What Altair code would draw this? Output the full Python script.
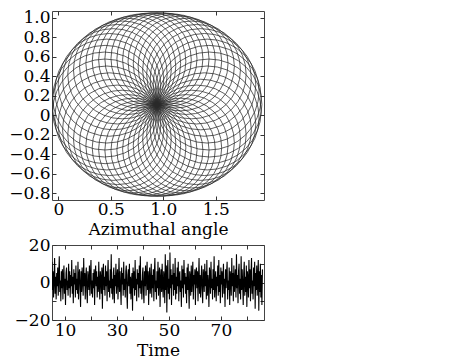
import altair as alt
import numpy as np
import pandas as pd

# ---------------- top panel: orbit loops ----------------
loop_angle_deg = [0, 7.5, 15, 22.5, 30, 37.5, 45, 52.5, 60, 67.5, 75, 82.5,
                  90, 97.5, 105, 112.5, 120, 127.5, 135, 142.5, 150, 157.5, 165, 172.5,
                  180, 187.5, 195, 202.5, 210, 217.5, 225, 232.5, 240, 247.5, 255, 262.5,
                  270, 277.5, 285, 292.5, 300, 307.5, 315, 322.5, 330, 337.5, 345, 352.5]
loop_reach = [1.000, 0.997, 0.990, 0.979, 0.964, 0.948, 0.932, 0.917, 0.903, 0.892, 0.883, 0.878,
              0.876, 0.878, 0.883, 0.892, 0.903, 0.917, 0.932, 0.948, 0.964, 0.979, 0.990, 0.997,
              1.000, 0.997, 0.990, 0.979, 0.964, 0.948, 0.932, 0.917, 0.903, 0.892, 0.883, 0.878,
              0.876, 0.878, 0.883, 0.892, 0.903, 0.917, 0.932, 0.948, 0.964, 0.979, 0.990, 0.997]
orbit_center = [0.94, 0.11]

x_domain = [-0.06, 1.96]
y_domain = [-0.87, 1.07]
x_ticks = [0, 0.5, 1.0, 1.5]
y_ticks = [-0.8, -0.6, -0.4, -0.2, 0, 0.2, 0.4, 0.6, 0.8, 1.0]

# ---------------- bottom panel: time series ----------------
t_start = 5.0
t_step = 0.2
signal = [
    11, -4, 6, -8, 2, 13, -6, 3, -9, 5, -2, 8, -7, 4, 14, -5, 1, -10, 6, -3,
    7, -9, 3, 9, -6, 2, -12, 5, 8, -4, 1, -7, 10, -3, 6, -8, 4, -2, 12, -6,
    3, -11, 7, -1, 5, -8, 9, -4, 2, -6, 11, -9, 4, 7, -3, -13, 6, -5, 8, 1,
    -7, 13, -2, 5, -9, 3, 8, -5, -11, 6, 2, -4, 9, -7, 4, 12, -6, 1, -8, 5,
    -3, 7, -12, 4, 9, -2, 6, -8, 3, -5, 11, -1, -9, 6, 2, -6, 8, -14, 5, 10,
    -4, 3, -7, 9, -2, 6, -10, 4, 12, -5, 1, -8, 7, -3, 15, -6, 2, -9, 5, 8,
    -11, 4, -2, 10, -6, 3, 7, -9, 1, 13, -5, 6, -3, -12, 8, -1, 5, -7, 11, -4,
    2, -8, 6, 9, -5, -14, 4, 7, -2, 10, -6, 3, -9, 1, 5, -15, 8, -3, 6, -7,
    12, -4, 2, -10, 7, -1, 5, -8, 9, -3, 14, -6, 1, -9, 4, 8, -5, -11, 6, -2,
    9, -7, 3, 11, -4, 6, -12, 2, 8, -6, -1, 10, -8, 4, -3, 7, -10, 5, 13, -5,
    1, -9, 6, -3, 11, -7, 4, 8, -13, 2, 7, -5, 10, -2, -8, 6, 3, -11, 15, -4,
    9, -16, 5, 12, -6, 2, -9, 16, -3, 7, -12, 4, -1, 10, -7, 5, -4, 13, -9, 3,
    -6, 8, -2, 11, -10, 4, 6, -5, 1, -13, 9, -3, 7, -8, 12, -1, 5, -6, 3, -11,
    8, -4, 10, -2, -14, 6, 3, -7, 9, -5, 2, 11, -9, 4, -1, 7, -12, 5, 8, -3,
    6, -10, 2, 13, -6, 4, -8, 1, 9, -4, -11, 7, 3, -5, 10, -2, 6, -9, 12, -7,
    4, -1, -13, 8, 5, -6, 11, -3, 2, -9, 7, -4, 14, -8, 1, 6, -10, 3, -2, 9,
    -7, 12, -5, 4, -11, 8, -1, 6, -8, 3, 10, -6, 2, -13, 7, -3, 5, 11, -9, 1,
    -4, 8, -12, 6, 2, -7, 13, -2, 5, -10, 9, -5, 1, 7, -8, 15, -3, 4, -11, 6,
    10, -6, 2, -9, 14, -4, 7, -1, -12, 5, 11, -7, 3, -5, 9, -13, 6, 2, -8, 12,
    -3, 7, -10, 4, 13, -6, 1, -9, 8, -2, 11, -14, 5, -4, 9, -7, 3, 12, -15, 6,
    -5, 10, -8, 4, -12, 7,
]
t_domain = [5.0, 86.6]
t_ticks = [10, 20, 30, 40, 50, 60, 70, 80]
v_domain = [-20, 20]
v_ticks = [-20, -10, 0, 10, 20]

# ---------------- layout ----------------
W = 212
H_TOP = 189
H_BOT = 75
FONT = "DejaVu Serif"
LINE = "#2a2a2a"

ppu_x = W / (x_domain[1] - x_domain[0])
ppu_y = H_TOP / (y_domain[1] - y_domain[0])

phi = np.radians(loop_angle_deg)
reach = np.array(loop_reach)
loops = pd.DataFrame({
    "cx": orbit_center[0] + 0.5 * reach * np.cos(phi),
    "cy": orbit_center[1] + 0.5 * reach * np.sin(phi) * ppu_x / ppu_y,
    "d": reach,
})

ts = pd.DataFrame({"t": t_start + t_step * np.arange(len(signal)), "v": signal})

minus = "replace(format(datum.value, '.1f'), '-', '\u2212')"
xs = alt.Scale(domain=x_domain, nice=False, zero=False)
ys = alt.Scale(domain=y_domain, nice=False, zero=False)


def inner_axis(orient, values, **kw):
    return alt.Axis(orient=orient, values=values, offset=-4, tickSize=4, domain=False,
                    grid=False, tickColor="#333", tickWidth=1, labelFlush=False,
                    labelOverlap=False, **kw)


loop_layer = alt.Chart(loops).mark_point(
    shape="circle", filled=False, stroke=LINE, strokeWidth=0.75, opacity=1, clip=True
).encode(
    x=alt.X("cx:Q", scale=xs, title="Azimuthal angle",
            axis=inner_axis("bottom", x_ticks, labelPadding=1, titlePadding=4,
                            labelExpr="datum.value == 0 ? '0' : format(datum.value, '.1f')")),
    y=alt.Y("cy:Q", scale=ys, title=None,
            axis=inner_axis("left", y_ticks, labelPadding=2,
                            labelExpr="abs(datum.value) < 1e-9 ? '0' : " + minus)),
    size=alt.Size("d:Q", legend=None,
                  scale=alt.Scale(type="pow", exponent=2, domain=[0, 1], range=[0, ppu_x ** 2])),
)
loop_ticks = alt.Chart(loops).mark_point(opacity=0).encode(
    x=alt.X("cx:Q", scale=xs, title=None, axis=inner_axis("top", x_ticks, labels=False)),
    y=alt.Y("cy:Q", scale=ys, title=None, axis=inner_axis("right", y_ticks, labels=False)),
)
top = alt.layer(loop_layer, loop_ticks).resolve_axis(x="independent", y="independent").properties(
    width=W, height=H_TOP)

ts_x = alt.Scale(domain=t_domain, nice=False, zero=False)
ts_y = alt.Scale(domain=v_domain, nice=False, zero=False)
line_layer = alt.Chart(ts).mark_line(color="#000", strokeWidth=1.1, clip=True).encode(
    x=alt.X("t:Q", scale=ts_x, title="Time",
            axis=inner_axis("bottom", t_ticks, labelPadding=2, titlePadding=4,
                            labelExpr="datum.value % 20 == 10 ? format(datum.value, 'd') : ''")),
    y=alt.Y("v:Q", scale=ts_y, title=None,
            axis=inner_axis("left", v_ticks, labelPadding=2,
                            labelExpr="abs(datum.value) == 10 ? '' : replace(format(datum.value, 'd'), '-', '\u2212')")),
)
line_ticks = alt.Chart(ts).mark_point(opacity=0).encode(
    x=alt.X("t:Q", scale=ts_x, title=None, axis=inner_axis("top", t_ticks, labels=False)),
    y=alt.Y("v:Q", scale=ts_y, title=None, axis=inner_axis("right", v_ticks, labels=False)),
)
bottom = alt.layer(line_layer, line_ticks).resolve_axis(x="independent", y="independent").properties(
    width=W, height=H_BOT)

chart = alt.vconcat(top, bottom, spacing=45, bounds="flush").properties(
    padding={"left": 0, "top": 0, "right": 5, "bottom": 0},
    background="white",
).configure_view(stroke="#444", strokeWidth=1).configure_axis(
    labelFont=FONT, titleFont=FONT, labelFontSize=17, titleFontSize=17,
    labelColor="#000", titleColor="#000", titleFontWeight="normal",
)

chart.save("out.html", embed_options={"renderer": "svg", "actions": False})
